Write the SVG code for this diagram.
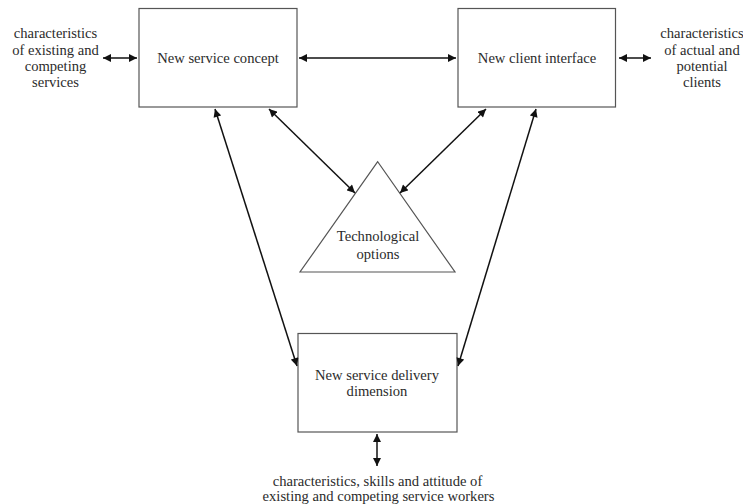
<svg xmlns="http://www.w3.org/2000/svg" width="743" height="504" viewBox="0 0 743 504">
<style>
  .box { fill: #ffffff; stroke: #555555; stroke-width: 1.2; }
  .lbl { font-family: "Liberation Serif", "Times New Roman", serif; font-size: 14.6px; fill: #2b2b2b; text-anchor: middle; }
  .conn { stroke: #111111; stroke-width: 1.5; fill: none; marker-start: url(#ah); marker-end: url(#ah); }
</style>
<defs>
  <marker id="ah" viewBox="0 0 10 10" refX="10" refY="5" markerWidth="9" markerHeight="8" markerUnits="userSpaceOnUse" orient="auto-start-reverse">
    <path d="M0,0 L10,5 L0,10 z" fill="#111111"/>
  </marker>
</defs>
<rect width="743" height="504" fill="#ffffff"/>

<g id="concept">
  <rect class="box" x="139" y="8.5" width="158" height="98.5"/>
  <text class="lbl" x="218" y="63">New service concept</text>
</g>
<g id="client">
  <rect class="box" x="458" y="8.5" width="157.5" height="98.5"/>
  <text class="lbl" x="537" y="63">New client interface</text>
</g>
<g id="tech">
  <polygon class="box" points="377.7,161.7 300,272 455,272"/>
  <text class="lbl" x="378" y="241">Technological</text>
  <text class="lbl" x="378" y="259">options</text>
</g>
<g id="delivery">
  <rect class="box" x="298" y="333.5" width="159" height="98.5"/>
  <text class="lbl" x="377" y="380">New service delivery</text>
  <text class="lbl" x="377" y="396">dimension</text>
</g>
<g id="services-label">
  <text class="lbl" x="55.5" y="38">characteristics</text>
  <text class="lbl" x="55.5" y="54.5">of existing and</text>
  <text class="lbl" x="55.5" y="71">competing</text>
  <text class="lbl" x="55.5" y="87">services</text>
</g>
<g id="clients-label">
  <text class="lbl" x="702" y="38">characteristics</text>
  <text class="lbl" x="702" y="54.5">of actual and</text>
  <text class="lbl" x="702" y="71">potential</text>
  <text class="lbl" x="702" y="87">clients</text>
</g>
<g id="workers-label">
  <text class="lbl" x="377.5" y="486">characteristics, skills and attitude of</text>
  <text class="lbl" x="378.5" y="500.5">existing and competing service workers</text>
</g>

<g id="connectors">
  <line class="conn" x1="103" y1="58" x2="137" y2="58"/>
  <line class="conn" x1="299" y1="58" x2="456" y2="58"/>
  <line class="conn" x1="619" y1="58" x2="651" y2="58"/>
  <line class="conn" x1="215" y1="109" x2="297" y2="366"/>
  <line class="conn" x1="269" y1="109" x2="355" y2="193"/>
  <line class="conn" x1="486" y1="109" x2="400" y2="193"/>
  <line class="conn" x1="536" y1="109" x2="458" y2="366"/>
  <line class="conn" x1="377" y1="434" x2="377" y2="466"/>
</g>
</svg>
